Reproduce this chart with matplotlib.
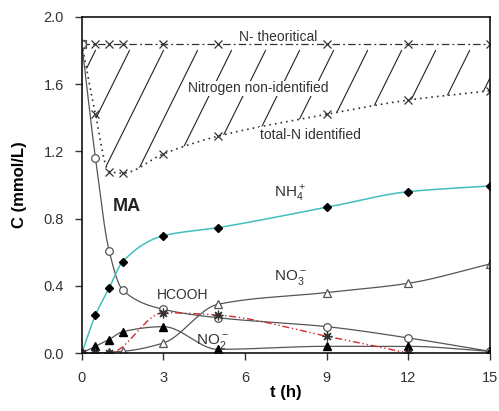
import numpy as np
import matplotlib.pyplot as plt
from matplotlib.patches import PathPatch

plt.rcParams['font.family'] = ['Liberation Sans', 'DejaVu Sans']
plt.rcParams['mathtext.fontset'] = 'custom'
plt.rcParams['mathtext.rm'] = 'Liberation Sans'

t = [0, 0.5, 1, 1.5, 3, 5, 9, 12, 15]
n_theo = [1.84, 1.84, 1.84, 1.84, 1.84, 1.84, 1.84, 1.84, 1.84]
n_total = [1.84, 1.42, 1.08, 1.07, 1.185, 1.29, 1.42, 1.505, 1.56]
ma = [1.84, 1.16, 0.61, 0.375, 0.26, 0.21, 0.157, 0.09, 0.01]
nh4 = [0.0, 0.226, 0.385, 0.544, 0.698, 0.746, 0.867, 0.96, 0.994]
no3 = [0.0, 0.0, 0.005, 0.01, 0.06, 0.29, 0.36, 0.415, 0.53]
no2 = [0.0, 0.04, 0.08, 0.127, 0.157, 0.022, 0.04, 0.04, 0.01]
t_hcooh = [0, 0.5, 1, 3, 5, 9, 12]
hcooh = [0.0, 0.0, 0.0, 0.24, 0.226, 0.1, 0.0]


def pchip(x, y, xs):
    x = np.asarray(x, float)
    y = np.asarray(y, float)
    h = np.diff(x)
    d = np.diff(y) / h
    m = np.zeros_like(y)
    for k in range(1, len(x) - 1):
        if d[k - 1] * d[k] > 0:
            w1 = 2 * h[k] + h[k - 1]
            w2 = h[k] + 2 * h[k - 1]
            m[k] = (w1 + w2) / (w1 / d[k - 1] + w2 / d[k])
    m[0] = d[0]
    m[-1] = d[-1]
    out = np.empty_like(xs)
    idx = np.clip(np.searchsorted(x, xs) - 1, 0, len(x) - 2)
    for j, (xv, i) in enumerate(zip(xs, idx)):
        s = (xv - x[i]) / h[i]
        h00 = 2 * s**3 - 3 * s**2 + 1
        h10 = s**3 - 2 * s**2 + s
        h01 = -2 * s**3 + 3 * s**2
        h11 = s**3 - s**2
        out[j] = h00 * y[i] + h10 * h[i] * m[i] + h01 * y[i + 1] + h11 * h[i] * m[i + 1]
    return out


fig = plt.figure(figsize=(4.99, 4.11), dpi=100)
ax = fig.add_axes([0.164, 0.141, 0.818, 0.818])

xs = np.linspace(0, 15, 600)
xs_h = np.linspace(0, 12, 500)
grey = '#555555'

# hatched region between theoretical and identified nitrogen
total_s = pchip(t, n_total, xs)
theo_s = pchip(t, n_theo, xs)
poly = ax.fill_between(xs, total_s, theo_s, facecolor='none', edgecolor='none')
clip = PathPatch(poly.get_paths()[0], transform=ax.transData, facecolor='none', edgecolor='none')
ax.add_patch(clip)
for x0 in np.arange(-3.5, 15, 1.25):
    ln, = ax.plot([x0 + 0.15, x0 + 2.75], [0.95, 1.8], color='#222222', lw=0.8)
    ln.set_clip_path(clip)

ax.plot(xs, theo_s, color='#333333', lw=0.9, ls=(0, (6, 2.5, 1.5, 2.5)))
ax.plot(t[1:], n_theo[1:], 'x', color='#333333', ms=6, mew=0.9)
ax.plot(xs, total_s, color='#333333', lw=1.2, ls=(0, (1, 2.4)))
ax.plot(t, n_total, 'x', color='#333333', ms=6, mew=0.9)
ax.plot([0], [1.84], 's', mfc='white', mec='#555555', ms=6, mew=0.9)

ax.plot(xs, pchip(t, ma, xs), color=grey, lw=0.9)
ax.plot(t, ma, 'o', mfc='white', mec=grey, ms=5.5, mew=0.9)

ax.plot(xs, pchip(t, nh4, xs), color='#3fc0bd', lw=1.1)
ax.plot(t, nh4, 'D', color='black', ms=4.5)

ax.plot(xs, pchip(t, no3, xs), color=grey, lw=0.9)
ax.plot(t, no3, '^', mfc='white', mec=grey, ms=6, mew=0.9)

ax.plot(xs, pchip(t, no2, xs), color=grey, lw=0.9)
ax.plot(t, no2, '^', color='black', ms=6)

ax.plot(xs_h, pchip(t_hcooh, hcooh, xs_h), color='#d42a2a', lw=1.0,
        ls=(0, (5, 2, 1, 2, 1, 2)))
ax.plot(t_hcooh, hcooh, marker=(8, 2, 0), ls='none', color='#333333', ms=7, mew=0.9)

tc = '#333333'
ax.text(7.2, 1.88, 'N- theoritical', ha='center', va='center', fontsize=10, color=tc)
ax.text(6.5, 1.575, 'Nitrogen non-identified', ha='center', va='center', fontsize=10, color=tc,
        bbox=dict(facecolor='white', edgecolor='none', pad=0.5))
ax.text(8.4, 1.30, 'total-N identified', ha='center', va='center', fontsize=10, color=tc,
        bbox=dict(facecolor='white', edgecolor='none', pad=0.5))
ax.text(1.65, 0.87, 'MA', ha='center', va='center', fontsize=13, fontweight='bold', color='#222222')
ax.text(7.65, 0.95, r'NH$_4^+$', ha='center', va='center', fontsize=11, color=tc)
ax.text(7.65, 0.45, r'NO$_3^-$', ha='center', va='center', fontsize=11, color=tc)
ax.text(3.7, 0.345, 'HCOOH', ha='center', va='center', fontsize=10, color=tc)
ax.text(4.8, 0.07, r'NO$_2^-$', ha='center', va='center', fontsize=11, color=tc)

ax.set_xlim(0, 15)
ax.set_ylim(0, 2.0)
ax.set_xticks([0, 3, 6, 9, 12, 15])
ax.set_yticks([0.0, 0.4, 0.8, 1.2, 1.6, 2.0])
ax.set_yticklabels(['0.0', '0.4', '0.8', '1.2', '1.6', '2.0'])
ax.tick_params(direction='out', length=5, width=1, labelsize=10.5, colors='#333333', pad=8)
for sp in ax.spines.values():
    sp.set_linewidth(1.2)
    sp.set_color('#111111')
ax.set_xlabel('t (h)', fontsize=12, fontweight='bold', labelpad=0)
ax.set_ylabel('C (mmol/L)', fontsize=12, fontweight='bold', labelpad=12)

fig.savefig('out.png', dpi=100)
